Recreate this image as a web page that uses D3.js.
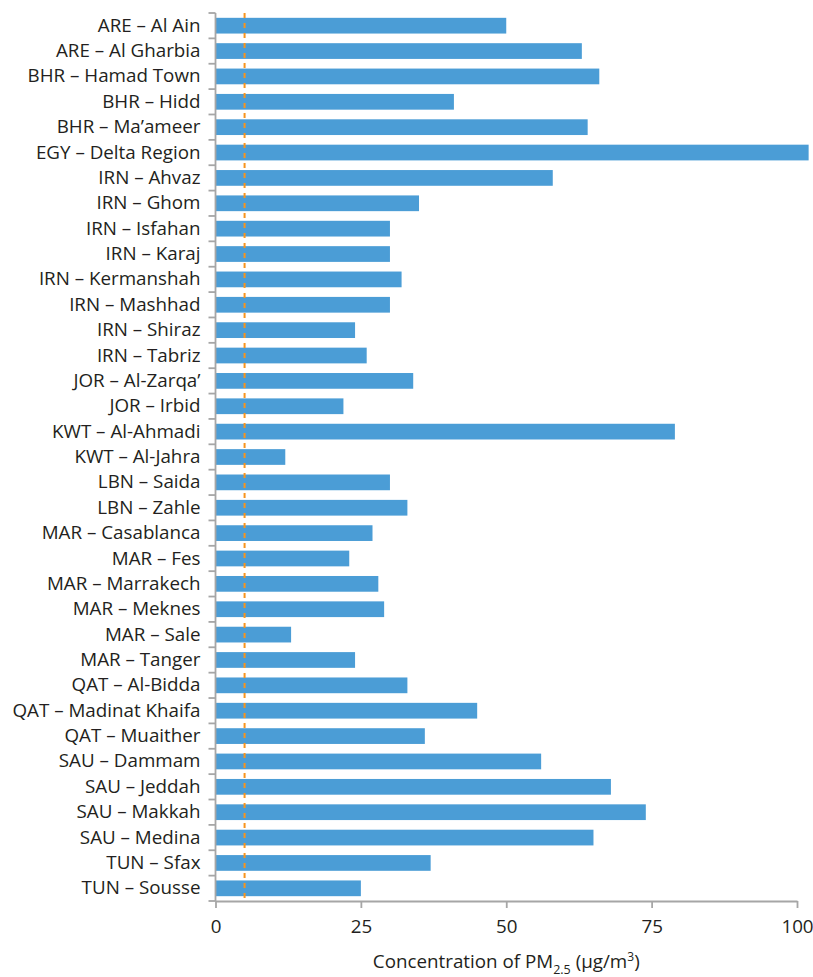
<!DOCTYPE html>
<html>
<head>
<meta charset="utf-8">
<script src="https://cdn.jsdelivr.net/npm/d3@7"></script>
<style>
  body { margin: 0; background: #fff; }
  svg text { font-family: "Open Sans", "Noto Sans", sans-serif; fill: #231f20; }
</style>
</head>
<body>
<div id="chart"></div>
<script>
const sites = [
    "ARE – Al Ain", "ARE – Al Gharbia", "BHR – Hamad Town", "BHR – Hidd", "BHR – Ma’ameer",
    "EGY – Delta Region", "IRN – Ahvaz", "IRN – Ghom", "IRN – Isfahan", "IRN – Karaj",
    "IRN – Kermanshah", "IRN – Mashhad", "IRN – Shiraz", "IRN – Tabriz", "JOR – Al-Zarqa’",
    "JOR – Irbid", "KWT – Al-Ahmadi", "KWT – Al-Jahra", "LBN – Saida", "LBN – Zahle",
    "MAR – Casablanca", "MAR – Fes", "MAR – Marrakech", "MAR – Meknes", "MAR – Sale",
    "MAR – Tanger", "QAT – Al-Bidda", "QAT – Madinat Khaifa", "QAT – Muaither", "SAU – Dammam",
    "SAU – Jeddah", "SAU – Makkah", "SAU – Medina", "TUN – Sfax", "TUN – Sousse"
];

const pm25 = [
    50, 63, 66, 41, 64,
    102, 58, 35, 30, 30,
    32, 30, 24, 26, 34,
    22, 79, 12, 30, 33,
    27, 23, 28, 29, 13,
    24, 33, 45, 36, 56,
    68, 74, 65, 37, 25
];

const xTicks = [0, 25, 50, 75, 100];
const guideline = 5; // WHO guideline, dashed line

const data = sites.map((s, i) => ({ site: s, value: pm25[i] }));

const W = 813, H = 977;
const margin = { top: 13, right: 16, bottom: 76, left: 215.5 };
const width = W - margin.left - margin.right,
    height = H - margin.top - margin.bottom;

const svg = d3.select("#chart")
    .append("svg")
    .attr("width", W)
    .attr("height", H)
    .append("g")
    .attr("transform", `translate(${margin.left}, ${margin.top})`);

const x = d3.scaleLinear()
    .domain([0, 100])
    .range([0, width]);

const y = d3.scaleBand()
    .domain(sites)
    .range([0, height])
    .paddingInner(0.38)
    .paddingOuter(0.19);

// boundaries between categories, for the tick marks
const yEdge = d3.scaleLinear()
    .domain([0, sites.length])
    .range([0, height]);

const axisColor = "#a6a6a6";
const fontSize = "18.8px";

// bars
svg.selectAll("rect.bar")
    .data(data)
    .join("rect")
    .attr("class", "bar")
    .attr("x", x(0))
    .attr("y", d => y(d.site))
    .attr("width", d => x(d.value) - x(0))
    .attr("height", y.bandwidth())
    .attr("fill", "#4b9dd6");

// y axis labels
svg.append("g")
    .call(d3.axisLeft(y).tickSize(0).tickPadding(15))
    .call(g => g.select(".domain").remove())
    .selectAll("text")
    .style("font-size", fontSize)
    .attr("fill", "#231f20");

// y axis line + ticks between categories
svg.append("line")
    .attr("x1", 0).attr("x2", 0)
    .attr("y1", 0).attr("y2", height)
    .attr("stroke", axisColor)
    .attr("stroke-width", 1.8);

svg.selectAll("line.ytick")
    .data(d3.range(sites.length + 1))
    .join("line")
    .attr("class", "ytick")
    .attr("x1", -7).attr("x2", 0)
    .attr("y1", d => yEdge(d)).attr("y2", d => yEdge(d))
    .attr("stroke", axisColor)
    .attr("stroke-width", 1.8);

// x axis
svg.append("g")
    .attr("transform", `translate(0, ${height})`)
    .call(d3.axisBottom(x).tickValues(xTicks).tickSize(7).tickPadding(12).tickSizeOuter(0))
    .call(g => g.select(".domain").attr("stroke", axisColor).attr("stroke-width", 1.8))
    .call(g => g.selectAll(".tick line").attr("stroke", axisColor).attr("stroke-width", 1.8))
    .selectAll("text")
    .style("font-size", fontSize)
    .attr("fill", "#231f20");

// guideline
svg.append("line")
    .attr("x1", x(guideline)).attr("x2", x(guideline))
    .attr("y1", 0).attr("y2", height)
    .attr("stroke", "#f7941d")
    .attr("stroke-width", 2)
    .attr("stroke-dasharray", "5,5");

// axis title
const title = svg.append("text")
    .attr("x", (x(0) + x(100)) / 2)
    .attr("y", height + 67)
    .attr("text-anchor", "middle")
    .style("font-size", fontSize);
title.append("tspan").text("Concentration of PM");
title.append("tspan").attr("dy", 6).style("font-size", "12.5px").text("2.5");
title.append("tspan").attr("dy", -6).text(" (μg/m");
title.append("tspan").attr("dy", -7).style("font-size", "12px").text("3");
title.append("tspan").attr("dy", 7).text(")");
</script>
</body>
</html>
